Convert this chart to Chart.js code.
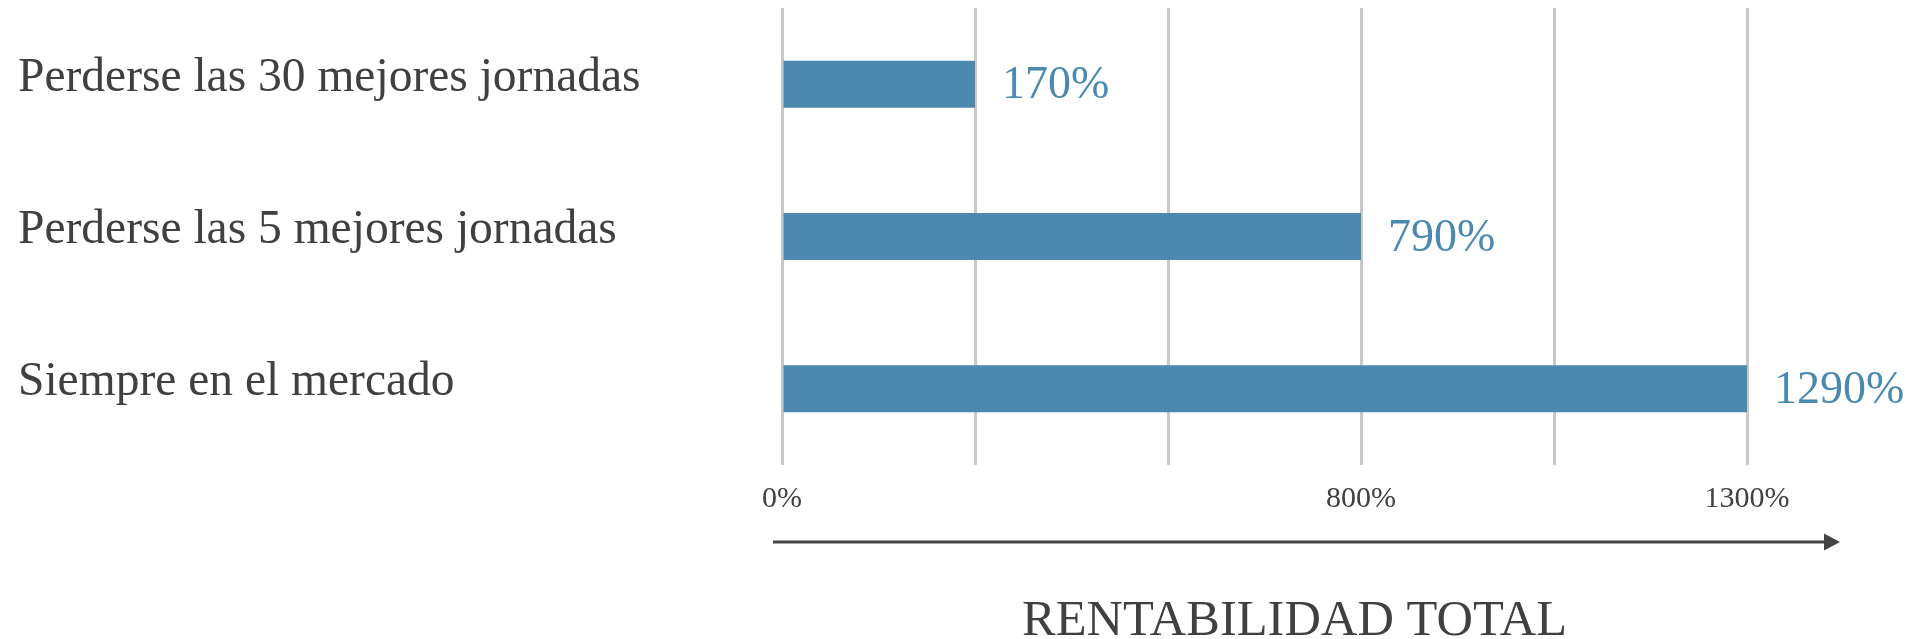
<!DOCTYPE html>
<html>
<head>
<meta charset="utf-8">
<script src="https://cdn.jsdelivr.net/npm/chart.js@4/dist/chart.umd.min.js"></script>
<style>
  html, body { margin: 0; padding: 0; background: #ffffff; }
  #wrap { width: 1913px; height: 639px; }
</style>
</head>
<body>
<div id="wrap"><canvas id="c" width="1913" height="639"></canvas></div>
<script>
// ---- data ----
const categories = ['Perderse las 30 mejores jornadas', 'Perderse las 5 mejores jornadas', 'Siempre en el mercado'];
const returnsPct = [170, 790, 1290];                 // value labels shown next to bars
const barSteps = [1, 3, 5];                          // bar length in gridline steps (chart is not to scale)
const tickLabels = ['0%', '', '', '800%', '', '1300%']; // labels under gridline steps 0..5
const axisTitle = 'RENTABILIDAD TOTAL';

const barColor = '#4D89AF';
const textColor = '#404040';
const serif = '"Liberation Serif", "Times New Roman", serif';

const annotate = {
  id: 'annotate',
  afterDatasetsDraw(chart) {
    const ctx = chart.ctx;
    const meta = chart.getDatasetMeta(0);
    ctx.save();
    ctx.font = '46px ' + serif;
    ctx.fillStyle = '#4A89B0';
    ctx.textAlign = 'left';
    ctx.textBaseline = 'middle';
    meta.data.forEach((bar, i) => {
      ctx.fillText(returnsPct[i] + '%', bar.x + 27, bar.y + 2);
    });
    ctx.restore();
  },
  afterDraw(chart) {
    const ctx = chart.ctx;
    const area = chart.chartArea;
    const y = 542;
    const x0 = area.left - 9;
    const tip = area.right + 93;
    ctx.save();
    ctx.strokeStyle = '#444444';
    ctx.fillStyle = '#444444';
    ctx.lineWidth = 3;
    ctx.beginPath();
    ctx.moveTo(x0, y);
    ctx.lineTo(tip - 12, y);
    ctx.stroke();
    ctx.beginPath();
    ctx.moveTo(tip - 16, y - 8.5);
    ctx.lineTo(tip, y);
    ctx.lineTo(tip - 16, y + 8.5);
    ctx.closePath();
    ctx.fill();
    ctx.font = '50.5px ' + serif;
    ctx.fillStyle = textColor;
    ctx.textAlign = 'center';
    ctx.textBaseline = 'alphabetic';
    ctx.fillText(axisTitle, (x0 + tip) / 2 - 12, 635);
    ctx.restore();
  }
};

new Chart(document.getElementById('c'), {
  type: 'bar',
  data: {
    labels: categories,
    datasets: [{
      data: barSteps,
      backgroundColor: barColor,
      borderWidth: 0,
      barPercentage: 0.308,
      categoryPercentage: 1
    }]
  },
  options: {
    indexAxis: 'y',
    responsive: false,
    animation: false,
    devicePixelRatio: 1,
    layout: { padding: { left: 18, right: 166, top: 8, bottom: 0 } },
    plugins: { legend: { display: false }, tooltip: { enabled: false }, title: { display: false } },
    scales: {
      x: {
        min: 0, max: 5,
        ticks: {
          stepSize: 1, autoSkip: false, maxRotation: 0, padding: 16,
          color: textColor, font: { family: serif, size: 30 },
          callback: (v) => tickLabels[v]
        },
        grid: { color: '#c8c8c8', lineWidth: 3, drawTicks: false },
        border: { display: false },
        afterFit(s) { s.height = 174; s.paddingLeft = 0; s.paddingRight = 0; }
      },
      y: {
        ticks: { crossAlign: 'far', labelOffset: -6, color: textColor, font: { family: serif, size: 47.5 } },
        grid: { display: false },
        border: { display: false },
        afterFit(s) { s.width = 764; s.paddingTop = 0; s.paddingBottom = 0; }
      }
    }
  },
  plugins: [annotate]
});
</script>
</body>
</html>
